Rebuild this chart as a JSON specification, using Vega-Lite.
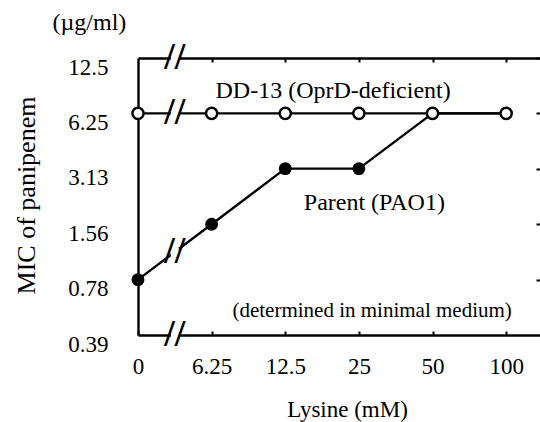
{
  "$schema": "https://vega.github.io/schema/vega-lite/v6.json",
  "width": 402,
  "height": 277,
  "autosize": "none",
  "padding": {"left": 138, "top": 58, "right": 0, "bottom": 87},
  "background": "white",
  "config": {
    "font": "Liberation Serif",
    "view": {"stroke": null},
    "axis": {
      "grid": false,
      "domainColor": "black",
      "tickColor": "black",
      "labelColor": "black",
      "titleColor": "black",
      "labelFont": "Liberation Serif",
      "titleFont": "Liberation Serif",
      "titleFontWeight": "normal",
      "domainWidth": 2.4,
      "tickWidth": 2
    }
  },
  "datasets": {
    "mic": [
      {"lysine": "0", "idx": 0, "strain": "Parent (PAO1)", "mic": 0.78},
      {"lysine": "6.25", "idx": 1, "strain": "Parent (PAO1)", "mic": 1.56},
      {"lysine": "12.5", "idx": 2, "strain": "Parent (PAO1)", "mic": 3.13},
      {"lysine": "25", "idx": 3, "strain": "Parent (PAO1)", "mic": 3.13},
      {"lysine": "50", "idx": 4, "strain": "Parent (PAO1)", "mic": 6.25},
      {"lysine": "100", "idx": 5, "strain": "Parent (PAO1)", "mic": 6.25},
      {"lysine": "0", "idx": 0, "strain": "DD-13 (OprD-deficient)", "mic": 6.25},
      {"lysine": "6.25", "idx": 1, "strain": "DD-13 (OprD-deficient)", "mic": 6.25},
      {"lysine": "12.5", "idx": 2, "strain": "DD-13 (OprD-deficient)", "mic": 6.25},
      {"lysine": "25", "idx": 3, "strain": "DD-13 (OprD-deficient)", "mic": 6.25},
      {"lysine": "50", "idx": 4, "strain": "DD-13 (OprD-deficient)", "mic": 6.25},
      {"lysine": "100", "idx": 5, "strain": "DD-13 (OprD-deficient)", "mic": 6.25}
    ],
    "breaks": [
      {"x": 0.5, "y": 12.5},
      {"x": 0.5, "y": 6.25},
      {"x": 0.5, "y": 1.103},
      {"x": 0.5, "y": 0.39}
    ],
    "one": [{}]
  },
  "layer": [
    {
      "data": {"name": "mic"},
      "mark": {"type": "line", "color": "black", "strokeWidth": 2.4},
      "encoding": {
        "x": {
          "field": "idx", "type": "quantitative",
          "scale": {"domain": [0, 5.46], "nice": false, "zero": false},
          "axis": {
            "orient": "bottom",
            "values": [0, 1, 2, 3, 4, 5],
            "labelExpr": "['0','6.25','12.5','25','50','100'][datum.value]",
            "tickSize": -4,
            "labelPadding": 24,
            "labelFontSize": 23,
            "labelBaseline": "top",
            "labelFlush": false,
            "title": "Lysine (mM)",
            "titleFontSize": 23,
            "titleBaseline": "alphabetic",
            "titleY": 81,
            "titleX": 209
          }
        },
        "y": {
          "field": "mic", "type": "quantitative",
          "scale": {"type": "log", "base": 2, "domain": [0.39, 12.5], "nice": false},
          "axis": {
            "orient": "left",
            "values": [0.39, 0.78, 1.56, 3.13, 6.25, 12.5],
            "ticks": false,
            "labelPadding": 30,
            "labelOffset": 9,
            "labelFontSize": 23,
            "labelFlush": false,
            "title": "MIC of panipenem",
            "titleFontSize": 26,
            "titleAngle": -90,
            "titleBaseline": "middle",
            "titleAlign": "center",
            "titleX": -112,
            "titleY": 137
          }
        },
        "detail": {"field": "strain", "type": "nominal"}
      }
    },
    {
      "data": {"name": "mic"},
      "transform": [{"filter": "datum.strain === 'Parent (PAO1)'"}],
      "mark": {"type": "point", "shape": "circle", "filled": true, "color": "black", "size": 165, "opacity": 1},
      "encoding": {
        "x": {
          "field": "idx", "type": "quantitative",
          "axis": {"orient": "top", "values": [1, 2, 3, 4, 5], "labels": false, "tickSize": -4, "title": null}
        },
        "y": {
          "field": "mic", "type": "quantitative",
          "axis": {"orient": "right", "values": [0.78, 1.56, 3.13, 6.25, 12.5], "labels": false, "domain": false, "tickSize": -4, "title": null}
        }
      }
    },
    {
      "data": {"name": "mic"},
      "transform": [{"filter": "datum.strain === 'DD-13 (OprD-deficient)'"}],
      "mark": {"type": "point", "shape": "circle", "filled": true, "fill": "white", "stroke": "black", "strokeWidth": 2.4, "size": 125, "opacity": 1},
      "encoding": {
        "x": {"field": "idx", "type": "quantitative", "axis": null},
        "y": {"field": "mic", "type": "quantitative", "axis": null}
      }
    },
    {
      "data": {"name": "breaks"},
      "mark": {"type": "point", "shape": "square", "filled": true, "color": "white", "size": 64, "opacity": 1},
      "encoding": {
        "x": {"field": "x", "type": "quantitative", "axis": null},
        "y": {"field": "y", "type": "quantitative", "axis": null}
      }
    },
    {
      "data": {"name": "breaks"},
      "mark": {"type": "text", "text": "//", "fontSize": 38, "fontWeight": "bold", "font": "Liberation Serif", "color": "black", "align": "center", "baseline": "middle", "dy": 0},
      "encoding": {
        "x": {"field": "x", "type": "quantitative", "axis": null},
        "y": {"field": "y", "type": "quantitative", "axis": null}
      }
    },
    {
      "data": {"name": "one"},
      "mark": {"type": "text", "text": "DD-13 (OprD-deficient)", "fontSize": 24, "align": "center", "baseline": "alphabetic", "color": "black"},
      "encoding": {"x": {"datum": 2.65, "type": "quantitative", "axis": null}, "y": {"datum": 7.58, "type": "quantitative", "axis": null}}
    },
    {
      "data": {"name": "one"},
      "mark": {"type": "text", "text": "Parent (PAO1)", "fontSize": 24, "align": "center", "baseline": "alphabetic", "color": "black"},
      "encoding": {"x": {"datum": 3.21, "type": "quantitative", "axis": null}, "y": {"datum": 1.865, "type": "quantitative", "axis": null}}
    },
    {
      "data": {"name": "one"},
      "mark": {"type": "text", "text": "(determined in minimal medium)", "fontSize": 21, "align": "center", "baseline": "alphabetic", "color": "black"},
      "encoding": {"x": {"datum": 3.18, "type": "quantitative", "axis": null}, "y": {"datum": 0.489, "type": "quantitative", "axis": null}}
    },
    {
      "data": {"name": "one"},
      "mark": {"type": "text", "text": "(µg/ml)", "fontSize": 24, "align": "center", "baseline": "alphabetic", "color": "black"},
      "encoding": {"x": {"datum": -0.66, "type": "quantitative", "axis": null}, "y": {"datum": 17.7, "type": "quantitative", "axis": null}}
    }
  ]
}
